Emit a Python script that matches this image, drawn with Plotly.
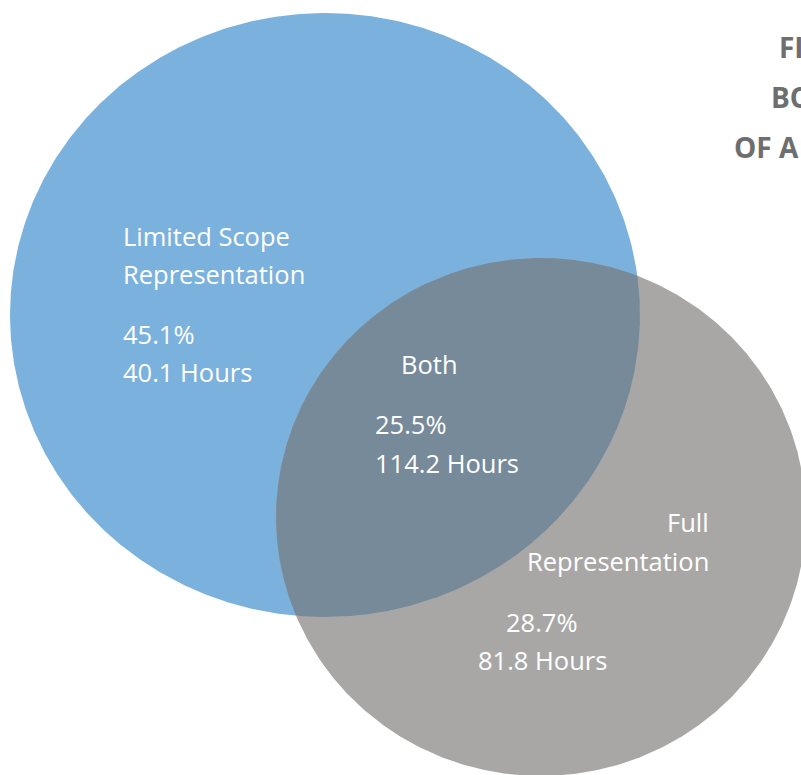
import numpy as np
import plotly.graph_objects as go

# Share of cases and average hours by type of representation
regions = ["Limited Scope Representation", "Both", "Full Representation"]
shares = [45.1, 25.5, 28.7]
hours = [40.1, 114.2, 81.8]

W, H = 801, 775

# Ellipse geometry in canvas units: (cx, cy, rx, ry)
LIMITED = (325, 315, 315, 302)
FULL = (541, 517, 265, 259)

BLUE = "#7AB1DD"
GRAY = "#A9A7A6"
OVERLAP = "#768A9A"
FONT = "Open Sans"
BODY = 25.5


def ellipse(cx, cy, rx, ry, n=720):
    t = np.linspace(0, 2 * np.pi, n, endpoint=False)
    return cx + rx * np.cos(t), cy + ry * np.sin(t)


def arc_inside(shape, other, n=4000):
    x, y = ellipse(*shape, n=n)
    ox, oy, orx, ory = other
    inside = ((x - ox) / orx) ** 2 + ((y - oy) / ory) ** 2 <= 1
    start = int(np.argmax(inside & ~np.roll(inside, 1)))
    x, y, inside = np.roll(x, -start), np.roll(y, -start), np.roll(inside, -start)
    end = int(np.argmin(inside)) if not inside.all() else len(inside)
    return x[:end], y[:end]


fig = go.Figure()

for shape, color in [(LIMITED, BLUE), (FULL, GRAY)]:
    x, y = ellipse(*shape)
    fig.add_trace(go.Scatter(x=np.append(x, x[0]), y=np.append(y, y[0]), mode="lines",
                             fill="toself", fillcolor=color, line=dict(width=0),
                             hoverinfo="skip", showlegend=False))

# Lens where both sets overlap
bx, by = arc_inside(LIMITED, FULL)
gx, gy = arc_inside(FULL, LIMITED)
lx = np.concatenate([bx, gx, bx[:1]])
ly = np.concatenate([by, gy, by[:1]])
fig.add_trace(go.Scatter(x=lx, y=ly, mode="lines", fill="toself", fillcolor=OVERLAP,
                         line=dict(width=0), hoverinfo="skip", showlegend=False))


def label(x, y, text, anchor="left", size=BODY, color="white", bold=False):
    if bold:
        text = "<b>" + text + "</b>"
    fig.add_annotation(x=x, y=y, xref="x", yref="y", text=text, showarrow=False,
                       xanchor=anchor, yanchor="middle",
                       font=dict(family=FONT, size=size, color=color))


# Limited scope region
name0 = regions[0].split(" ")
label(121, 236, " ".join(name0[:2]))
label(121, 274, name0[2])
label(121, 334, f"{shares[0]}%")
label(121, 372, f"{hours[0]} Hours")

# Overlap region
label(399, 364, regions[1])
label(373, 424, f"{shares[1]}%")
label(373, 463, f"{hours[1]} Hours")

# Full representation region
name2 = regions[2].split(" ")
label(711, 522, name2[0], anchor="right")
label(711, 561, name2[1], anchor="right")
label(542, 622, f"{shares[2]}%", anchor="center")
label(542, 660, f"{hours[2]} Hours", anchor="center")

# Heading, running off the right edge
for x, y, txt in [(777, 47, "FI"), (769, 97, "BO"), (732, 147, "OF A")]:
    label(x, y, txt, size=28, color="#6E6E6E", bold=True)

fig.update_layout(
    width=W, height=H,
    margin=dict(l=0, r=0, t=0, b=0),
    paper_bgcolor="white", plot_bgcolor="white",
    xaxis=dict(range=[0, W], visible=False, fixedrange=True),
    yaxis=dict(range=[H, 0], visible=False, fixedrange=True),
)

fig.write_html("out.html")
